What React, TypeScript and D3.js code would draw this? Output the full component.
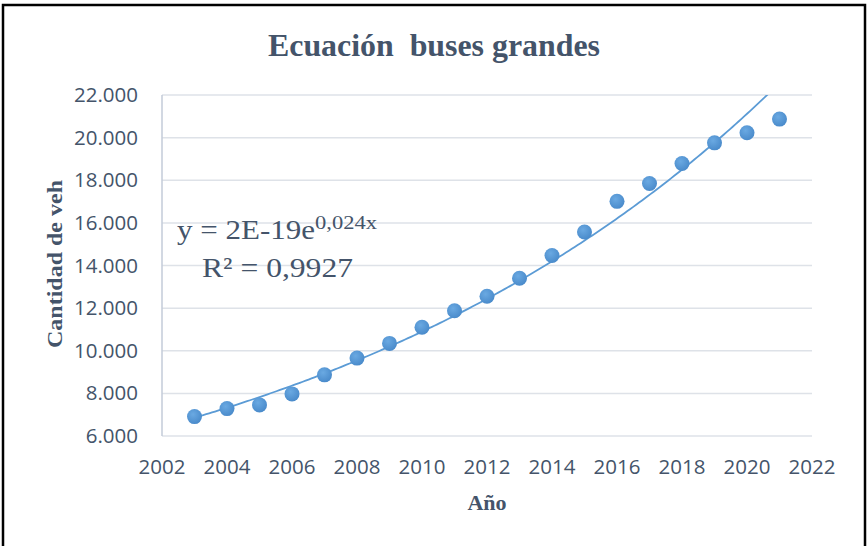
import { useMemo } from "react";
import * as d3 from "d3";

const WIDTH = 867;
const HEIGHT = 546;
const MARGIN = { top: 95, right: 55, bottom: 110, left: 162 };

const years = [2003, 2004, 2005, 2006, 2007, 2008, 2009, 2010, 2011, 2012, 2013, 2014, 2015, 2016, 2017, 2018, 2019, 2020, 2021];
const vehicles = [6910, 7285, 7460, 7975, 8870, 9655, 10345, 11100, 11880, 12555, 13405, 14470, 15570, 17010, 17845, 18785, 19755, 20230, 20870];
const xTicks = [2002, 2004, 2006, 2008, 2010, 2012, 2014, 2016, 2018, 2020, 2022];
const yTicks = [6000, 8000, 10000, 12000, 14000, 16000, 18000, 20000, 22000];

const TEXT = "#44546A";
const BLUE = "#5B9BD5";

// 22000 -> "22.000"
const label = (v: number) => {
  const s = String(v);
  return s.slice(0, s.length - 3) + "." + s.slice(-3);
};

const App = () => {
  const boundsWidth = WIDTH - MARGIN.left - MARGIN.right;
  const boundsHeight = HEIGHT - MARGIN.top - MARGIN.bottom;

  const xScale = d3.scaleLinear().domain([2002, 2022]).range([0, boundsWidth]);
  const yScale = d3.scaleLinear().domain([6000, 22000]).range([boundsHeight, 0]);

  // exponential trend: least squares on ln(y), like the spreadsheet does
  const trend = useMemo(() => {
    const n = years.length;
    const lx = years.map((x) => x - 2000);
    const ly = vehicles.map((v) => Math.log(v));
    const mx = d3.mean(lx)!;
    const my = d3.mean(ly)!;
    const b = d3.sum(lx.map((x, i) => (x - mx) * (ly[i] - my))) / d3.sum(lx.map((x) => (x - mx) ** 2));
    const a = my - b * mx;
    const pts: [number, number][] = [];
    for (let i = 0; i <= 200; i++) {
      const x = years[0] + ((years[n - 1] - years[0]) * i) / 200;
      pts.push([x, Math.exp(a + b * (x - 2000))]);
    }
    return pts;
  }, []);

  const line = d3
    .line<[number, number]>()
    .x((d) => xScale(d[0]))
    .y((d) => yScale(d[1]));

  return (
    <svg width={WIDTH} height={HEIGHT} style={{ position: "absolute", left: 0, top: 0, background: "#fff" }}>
      <defs>
        <clipPath id="plot">
          <rect x={0} y={0} width={boundsWidth} height={boundsHeight} />
        </clipPath>
        <radialGradient id="dot" cx="40%" cy="35%" r="65%">
          <stop offset="0%" stopColor="#6AA9E2" />
          <stop offset="100%" stopColor="#4A8BCB" />
        </radialGradient>
      </defs>
      <rect x={3} y={5} width={862} height={560} fill="none" stroke="#000" strokeWidth={2.5} />

      <text x={268} y={56} textLength={332} lengthAdjust="spacingAndGlyphs" fontFamily="Liberation Serif" fontWeight="bold" fontSize={31} fill={TEXT} style={{ whiteSpace: "pre" }}>
        {"Ecuación  buses grandes"}
      </text>

      <g transform={`translate(${MARGIN.left},${MARGIN.top})`}>
        {yTicks.map((t) => (
          <line key={t} x1={0} x2={boundsWidth} y1={yScale(t)} y2={yScale(t)} stroke="#DEE2E8" strokeWidth={1.5} />
        ))}
        <line x1={0} x2={0} y1={0} y2={boundsHeight} stroke="#C3CBD8" strokeWidth={1.5} />

        {yTicks.map((t) => (
          <text key={t} x={-24} y={yScale(t) + 7} textAnchor="end" fontFamily="Open Sans" fontSize={20.5} fill={TEXT}>
            {label(t)}
          </text>
        ))}
        {xTicks.map((t) => (
          <text key={t} x={xScale(t)} y={boundsHeight + 38} textAnchor="middle" fontFamily="Open Sans" fontSize={20.5} fill={TEXT}>
            {t}
          </text>
        ))}

        <path d={line(trend) || ""} fill="none" stroke={BLUE} strokeWidth={1.8} clipPath="url(#plot)" />

        {years.map((yr, i) => (
          <circle key={yr} cx={xScale(yr)} cy={yScale(vehicles[i])} r={7.5} fill="url(#dot)" />
        ))}
      </g>

      <text x={177} y={239} textLength={138} lengthAdjust="spacingAndGlyphs" fontFamily="Liberation Serif" fontSize={28} fill={TEXT}>
        y = 2E-19e
      </text>
      <text x={315} y={229} textLength={62} lengthAdjust="spacingAndGlyphs" fontFamily="Liberation Serif" fontSize={18} fill={TEXT}>
        0,024x
      </text>
      <text x={202} y={277} textLength={151} lengthAdjust="spacingAndGlyphs" fontFamily="Liberation Serif" fontSize={28} fill={TEXT}>
        R² = 0,9927
      </text>

      <text transform="translate(62,264) rotate(-90)" textAnchor="middle" textLength={168} lengthAdjust="spacingAndGlyphs" fontFamily="Liberation Serif" fontWeight="bold" fontSize={21} fill={TEXT}>
        Cantidad de veh
      </text>
      <text x={487} y={510} textAnchor="middle" fontFamily="Liberation Serif" fontWeight="bold" fontSize={22} fill={TEXT}>
        Año
      </text>
    </svg>
  );
};

export default App;
